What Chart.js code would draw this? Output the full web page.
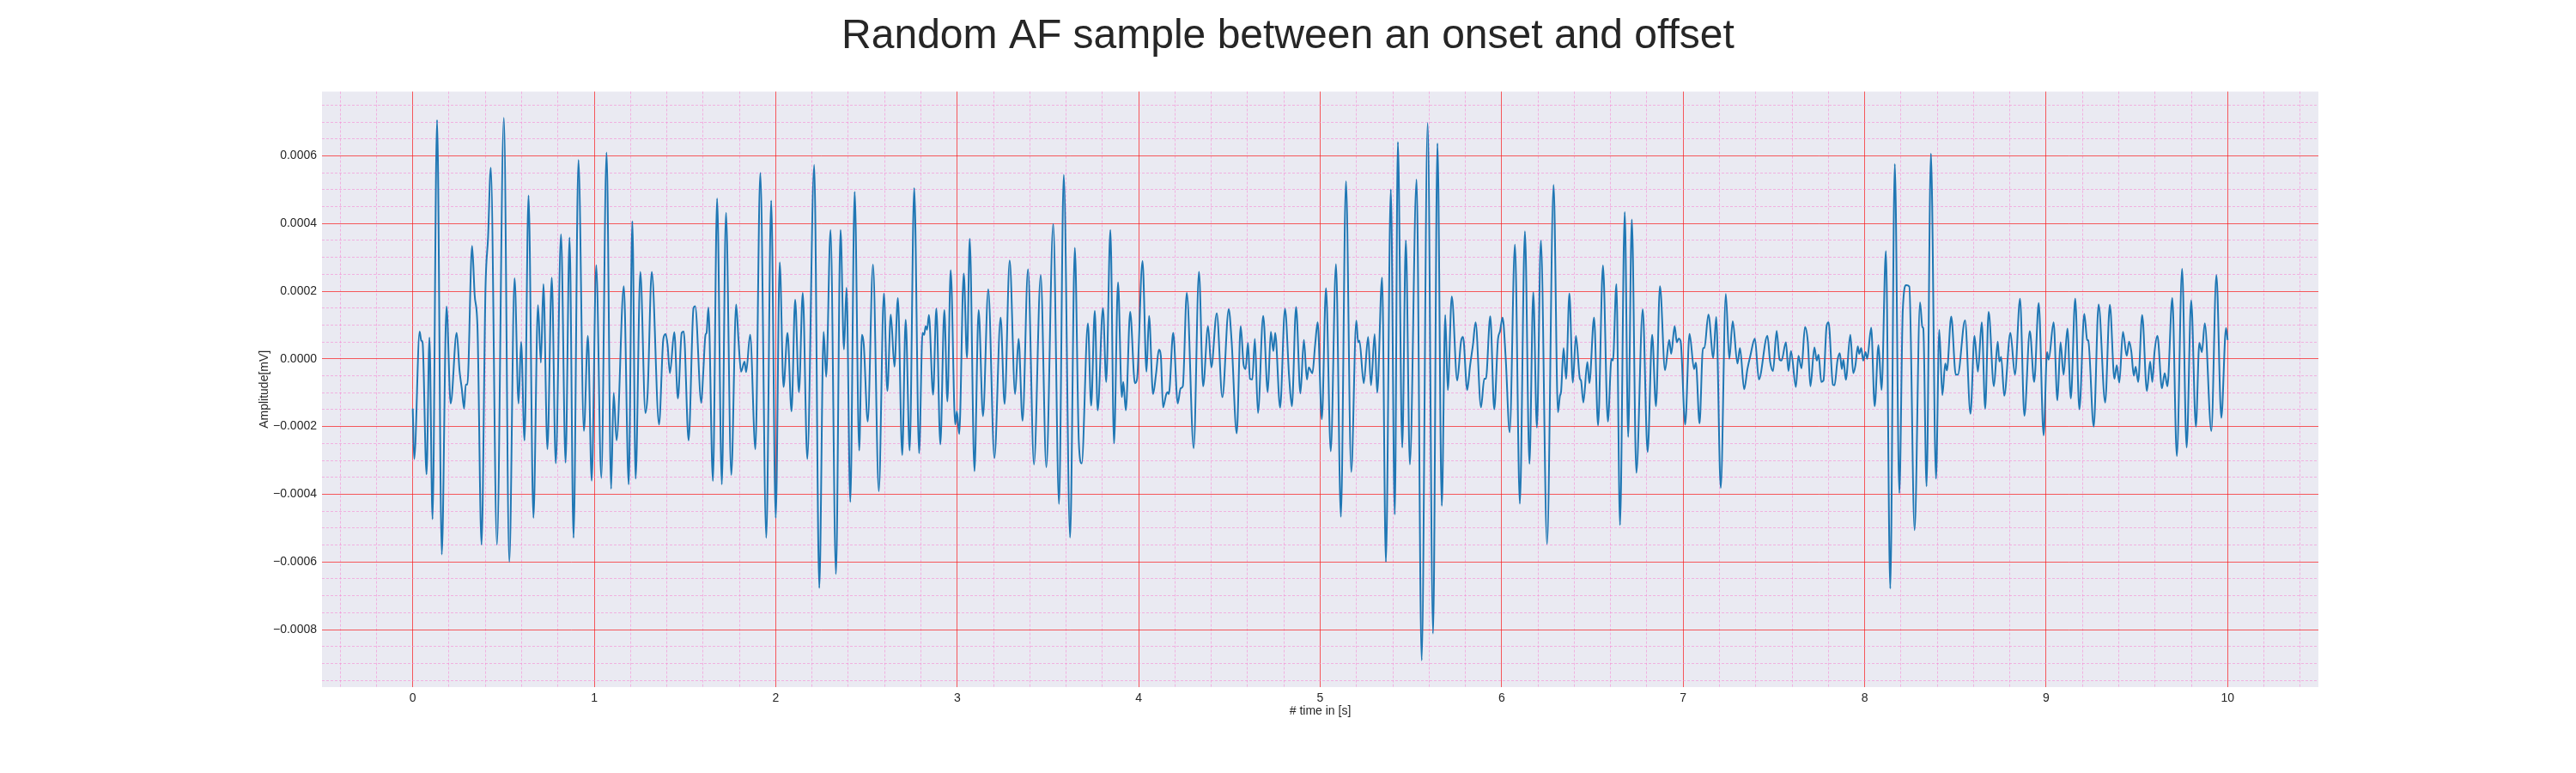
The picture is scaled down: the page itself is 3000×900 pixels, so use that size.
<!DOCTYPE html>
<html>
<head>
<meta charset="utf-8">
<title>Random AF sample between an onset and offset</title>
<script src="https://cdn.jsdelivr.net/npm/chart.js@4.4.1/dist/chart.umd.min.js"></script>
<style>
  html, body { margin: 0; padding: 0; background: #ffffff; }
  #afChart { display: block; }
</style>
</head>
<body>
<canvas id="afChart" width="3000" height="900"></canvas>
<script>
// ⏱ turning points of the trace [s]
const timeSec = [
  0.000, 0.008, 0.038, 0.047, 0.054, 0.076, 0.092, 0.109, 0.134, 0.160,
  0.186, 0.209, 0.242, 0.258, 0.270, 0.283, 0.292, 0.301, 0.327, 0.341,
  0.357, 0.379, 0.401, 0.415, 0.430, 0.464, 0.502, 0.532, 0.561, 0.583,
  0.597, 0.616, 0.638, 0.665, 0.690, 0.706, 0.720, 0.742, 0.766, 0.788,
  0.817, 0.842, 0.864, 0.886, 0.913, 0.943, 0.965, 0.986, 1.011, 1.039,
  1.068, 1.093, 1.107, 1.123, 1.163, 1.190, 1.210,
  1.228, 1.254, 1.282, 1.294, 1.317, 1.357, 1.381, 1.394, 1.404, 1.417,
  1.441, 1.461, 1.482, 1.493, 1.520, 1.547, 1.556, 1.590, 1.600, 1.613,
  1.619, 1.629, 1.654, 1.677, 1.703, 1.726, 1.755, 1.782, 1.795, 1.809,
  1.828, 1.837, 1.859, 1.888, 1.915, 1.948, 1.975, 2.000, 2.022, 2.043,
  2.065, 2.087, 2.107, 2.128, 2.149, 2.174, 2.212, 2.240, 2.264, 2.278,
  2.302, 2.332, 2.357, 2.376, 2.390, 2.411, 2.435, 2.460, 2.475,
  2.485, 2.507, 2.536, 2.568, 2.596, 2.615, 2.634, 2.654, 2.673, 2.697,
  2.716, 2.738, 2.763, 2.790, 2.809, 2.818, 2.826, 2.834, 2.844, 2.867,
  2.885, 2.907, 2.929, 2.946, 2.964, 2.989, 2.998, 3.011, 3.036, 3.054,
  3.069, 3.095, 3.118, 3.142, 3.171, 3.205, 3.239, 3.261, 3.289, 3.319,
  3.338, 3.360, 3.390, 3.423, 3.460, 3.491, 3.529, 3.561, 3.587, 3.622,
  3.648, 3.670, 3.686, 3.720,
  3.738, 3.758, 3.774, 3.803, 3.821, 3.844, 3.864, 3.886, 3.907, 3.915,
  3.929, 3.953, 3.979, 3.991, 4.021, 4.043, 4.057, 4.079, 4.096, 4.111,
  4.122, 4.134, 4.152, 4.160, 4.166, 4.190, 4.215, 4.231, 4.243, 4.265,
  4.303, 4.332, 4.355, 4.382, 4.400, 4.430, 4.461, 4.496, 4.512, 4.540,
  4.562, 4.578, 4.589, 4.602, 4.613, 4.626, 4.640, 4.657, 4.686, 4.711,
  4.728, 4.742, 4.752, 4.779, 4.806, 4.829, 4.844, 4.867, 4.891, 4.910,
  4.927, 4.937, 4.957, 4.972, 4.986,
  5.009, 5.032, 5.058, 5.087, 5.114, 5.142, 5.171, 5.199, 5.209, 5.216,
  5.240, 5.264, 5.280, 5.300, 5.314, 5.341, 5.362, 5.389, 5.411, 5.428,
  5.452, 5.472, 5.494, 5.531, 5.559, 5.592, 5.622, 5.646, 5.670, 5.689,
  5.703, 5.725, 5.755, 5.776, 5.787, 5.810, 5.826, 5.842, 5.856, 5.886,
  5.904, 5.913, 5.937, 5.959, 5.979, 5.991, 6.005, 6.022, 6.044, 6.073,
  6.100, 6.128, 6.153, 6.174, 6.194, 6.216,
  6.250, 6.286, 6.310, 6.321, 6.327, 6.341, 6.355, 6.373, 6.392, 6.409,
  6.431, 6.437, 6.450, 6.472, 6.483, 6.509, 6.531, 6.558, 6.585, 6.605,
  6.613, 6.632, 6.652, 6.678, 6.697, 6.717, 6.742, 6.777, 6.804, 6.829,
  6.850, 6.872, 6.900, 6.923, 6.934, 6.953, 6.965, 6.975, 6.986, 7.011,
  7.035, 7.060, 7.070, 7.090, 7.109, 7.117, 7.139, 7.166, 7.182, 7.207,
  7.235, 7.254, 7.273, 7.299, 7.313, 7.336, 7.354, 7.370, 7.395, 7.417,
  7.464, 7.479,
  7.495, 7.515, 7.531, 7.542, 7.566, 7.580, 7.594, 7.621, 7.635, 7.652,
  7.671, 7.687, 7.701, 7.723, 7.736, 7.746, 7.761, 7.773, 7.790, 7.801,
  7.825, 7.834, 7.850, 7.863, 7.874, 7.883, 7.896, 7.921, 7.937, 7.949,
  7.962, 7.970, 7.981, 7.992, 8.005, 8.014, 8.036, 8.055, 8.076, 8.093,
  8.117, 8.141, 8.166, 8.191, 8.210, 8.229, 8.246, 8.275, 8.305, 8.318,
  8.323, 8.341, 8.365, 8.393, 8.411, 8.428, 8.444, 8.453, 8.477, 8.502,
  8.513, 8.553, 8.583, 8.605, 8.624, 8.645, 8.664, 8.683, 8.712, 8.733,
  8.742, 8.752, 8.769, 8.803, 8.828, 8.856, 8.880, 8.910, 8.934, 8.959,
  8.986, 9.005, 9.014, 9.041, 9.062, 9.079, 9.096, 9.117, 9.136, 9.160,
  9.183, 9.210, 9.226, 9.232, 9.262, 9.289, 9.325, 9.351, 9.376, 9.389,
  9.403, 9.423, 9.444, 9.457, 9.469, 9.483, 9.493, 9.507, 9.529, 9.555,
  9.573, 9.585, 9.597, 9.613, 9.638, 9.653, 9.668, 9.695, 9.720, 9.749,
  9.774, 9.799, 9.825, 9.844, 9.858, 9.874, 9.910, 9.938, 9.965, 9.991,
  10.000
];

// 📈 amplitude at those points, in units of 1e-4 mV
const amplitudeE4 = [
  -1.47, -2.96, 0.81, 0.54, 0.49, -3.41, 0.63, -4.74, 7.06, -5.78,
  1.55, -1.32, 0.77, -0.36, -0.87, -1.47, -0.76, -0.76, 3.34, 1.90,
  0.88, -5.49, 2.12, 3.59, 5.65, -5.49, 7.12, -6.00, 2.38, -1.32,
  0.50, -2.41, 4.83, -4.70, 1.59, -0.11, 2.21, -2.67, 2.40, -3.09,
  3.68, -3.07, 3.59, -5.29, 5.88, -2.13, 0.68, -3.60, 2.77, -3.52,
  6.10, -3.84, -1.00, -2.41, 2.15, -3.71, 4.07,
  -3.54, 2.57, -1.60, -1.04, 2.57, -1.94, 0.60, 0.73, 0.41, -0.42,
  0.79, -1.17, 0.77, 0.81, -2.41, 1.50, 1.56, -1.30, -0.47, 0.71,
  0.77, 1.52, -3.61, 4.74, -3.71, 4.32, -3.43, 1.61, 0.54, -0.38,
  -0.08, -0.39, 0.71, -2.67, 5.50, -5.29, 4.68, -4.70, 2.85, -0.83,
  0.77, -1.55, 1.75, -0.98, 1.95, -2.96, 5.73, -6.77, 0.80, -0.53,
  3.81, -6.36, 3.81, 0.28, 2.10, -4.23, 4.94, -2.71, 0.71,
  0.43, -1.85, 2.79, -3.91, 1.93, -0.95, 1.31, -0.23, 1.80, -2.84,
  1.16, -2.71, 5.05, -2.79, 0.77, 0.71, 0.97, 0.86, 1.30, -1.06,
  1.49, -2.53, 1.44, -1.26, 2.62, -1.94, -1.55, -2.22, 2.52, 0.03,
  3.55, -3.32, 1.44, -1.69, 2.06, -2.93, 1.22, -1.33, 2.91, -1.04,
  0.59, -1.83, 2.65, -3.12, 2.48, -3.20, 3.99, -4.29, 5.44, -5.28,
  3.28, -2.45, -3.09, 1.05,
  -1.38, 1.42, -1.52, 1.50, -0.68, 3.81, -2.50, 2.26, -1.13, -0.68,
  -1.52, 1.39, -0.72, -0.59, 2.89, -0.38, 1.27, -1.04, -0.42, 0.27,
  0.09, -1.43, -1.04, -0.98, -1.04, 0.77, -1.32, -0.87, -0.81, 1.95,
  -2.64, 2.57, -0.81, 0.97, -0.25, 1.35, -1.13, 1.47, 0.52, -2.20,
  0.97, -0.18, -0.30, 0.47, -0.59, -0.61, 0.59, -1.60, 1.27, -0.98,
  0.80, 0.23, 0.77, -1.44, 1.48, -0.55, -1.40, 1.53, -1.02, 0.56,
  -0.61, -0.25, -0.42, 0.41, 1.08,
  -1.78, 2.09, -2.73, 2.80, -4.67, 5.25, -3.34, 1.13, 0.49, 0.54,
  -0.72, 0.65, -0.78, 0.73, -1.00, 2.40, -6.00, 5.01, -4.60, 6.41,
  -2.62, 3.50, -3.12, 5.30, -8.91, 6.97, -8.12, 6.37, -4.34, 1.30,
  -0.92, 1.84, -0.64, 0.52, 0.65, -0.92, -0.19, 0.43, 1.08, -1.43,
  -0.59, -0.59, 1.26, -1.49, 0.54, 0.82, 1.22, 0.03, -2.17, 3.38,
  -4.28, 3.77, -3.10, 1.97, -2.03, 3.50,
  -5.47, 5.14, -1.58, -1.09, -0.98, 0.32, -0.59, 1.93, -0.70, 0.68,
  -0.59, -0.64, -1.29, -0.09, -0.72, 1.22, -1.97, 2.76, -1.85, 0.00,
  -0.05, 2.21, -4.91, 4.34, -2.31, 4.12, -3.37, 1.47, -2.75, 0.71,
  -1.40, 2.15, -0.33, 0.56, 0.15, 0.97, 0.49, 0.60, 0.52, -1.94,
  0.74, -0.30, -0.11, -1.91, 0.32, 0.32, 1.31, 0.03, 1.24, -3.81,
  1.92, 0.00, 1.11, -0.14, 0.32, -0.90, -0.30, 0.09, 0.60, -0.61,
  0.68, -0.08,
  -0.36, 0.83, -0.02, -0.05, 0.49, -0.36, 0.23, -0.83, 0.09, -0.28,
  0.94, 0.49, -0.81, 0.34, -0.05, 0.12, -0.68, -0.64, 0.96, 1.08,
  -0.76, -0.78, -0.05, 0.17, -0.30, -0.02, -0.62, 0.71, -0.42, -0.19,
  0.37, 0.15, 0.32, -0.05, 0.20, 0.00, 0.92, -1.40, 0.41, -0.92,
  3.19, -6.79, 5.76, -3.97, 1.44, 2.18, 2.14, -5.06, 1.67, 0.94,
  0.90, -3.77, 6.07, -3.54, 0.86, -1.07, -0.14, -0.34, 1.25, -0.47,
  -0.47, 1.14, -1.62, 0.68, -0.38, 1.08, -1.47, 1.39, -0.81, 0.51,
  -0.08, 0.06, -1.09, 0.77, -0.47, 1.78, -1.68, 0.82, -0.68, 1.65,
  -2.26, 0.20, -0.02, 1.08, -1.23, 0.49, -0.47, 0.90, -1.17, 1.78,
  -1.49, 1.33, 0.56, 0.54, -2.00, 1.61, -1.29, 1.60, -0.59, -0.19,
  -0.70, 0.80, 0.09, 0.51, 0.23, -0.50, -0.23, -0.68, 1.30, -0.95,
  -0.08, -0.68, 0.20, 0.68, -0.87, -0.42, -0.81, 1.80, -2.87, 2.66,
  -2.62, 1.73, -2.00, 0.47, 0.20, 1.05, -2.13, 2.48, -1.74, 0.91,
  0.56
];

// 🏷 tick labels / grid
const xMajorTicks = [0, 1, 2, 3, 4, 5, 6, 7, 8, 9, 10];
const yMajorTicks = [-0.0008, -0.0006, -0.0004, -0.0002, 0, 0.0002, 0.0004, 0.0006];
const xMinorStep = 0.2;
const yMinorStep = 0.00005;
const xLimits = [-0.5, 10.5];
const yLimits = [-0.00097, 0.00079];

const TEXT = "#262626";
const FONT = "'Liberation Sans', Arial, sans-serif";

// minor grid positions (every step between the limits)
function minorTicks(limits, step) {
  const list = [];
  for (let k = Math.ceil(limits[0] / step - 1e-9); k * step <= limits[1] + 1e-12; k++) {
    list.push(+(k * step).toPrecision(10));
  }
  return list;
}

function isMajor(value, majors) {
  return majors.some(m => Math.abs(m - value) < 1e-9);
}

// 🎨 axes background like seaborn darkgrid
const plotBackground = {
  id: "plotBackground",
  beforeDraw(chart) {
    const { ctx, chartArea: a } = chart;
    ctx.save();
    ctx.fillStyle = "#EAEAF2";
    ctx.fillRect(a.left, a.top, a.right - a.left, a.bottom - a.top);
    ctx.restore();
  }
};

function gridFor(majors) {
  return {
    drawTicks: false,
    lineWidth: 1,
    color: c => isMajor(c.tick.value, majors) ? "rgba(250, 30, 30, 0.72)" : "rgba(245, 130, 210, 0.55)"
  };
}

function borderFor(majors) {
  return {
    display: false,
    dash: c => (c.tick && isMajor(c.tick.value, majors)) ? [] : [3, 2]
  };
}

const n = Math.min(timeSec.length, amplitudeE4.length);
const points = [];
for (let i = 0; i < n; i++) points.push({ x: timeSec[i], y: amplitudeE4[i] * 1e-4 });

const ctx = document.getElementById("afChart").getContext("2d");
new Chart(ctx, {
  type: "line",
  data: {
    datasets: [{
      label: "AF sample",
      data: points,
      borderColor: "#1f77b4",
      borderWidth: 2,
      pointRadius: 0,
      fill: false,
      cubicInterpolationMode: "monotone"
    }]
  },
  options: {
    responsive: false,
    animation: false,
    devicePixelRatio: 1,
    layout: { padding: 0 },
    plugins: {
      legend: { display: false },
      tooltip: { enabled: false },
      title: {
        display: true,
        text: "Random AF sample between an onset and offset",
        color: TEXT,
        font: { family: FONT, size: 48, weight: "normal", lineHeight: 1.2 },
        padding: { top: 14, bottom: 35 }
      }
    },
    scales: {
      x: {
        type: "linear",
        min: xLimits[0],
        max: xLimits[1],
        afterBuildTicks: s => { s.ticks = minorTicks(xLimits, xMinorStep).map(v => ({ value: v })); },
        afterFit: s => { s.height = 100; },
        grid: gridFor(xMajorTicks),
        border: borderFor(xMajorTicks),
        ticks: {
          autoSkip: false,
          maxRotation: 0,
          padding: 5,
          color: TEXT,
          font: { family: FONT, size: 14 },
          callback: v => isMajor(v, xMajorTicks) ? String(Math.round(v)) : ""
        },
        title: {
          display: true,
          text: "# time in [s]",
          color: TEXT,
          font: { family: FONT, size: 14 },
          padding: { top: 0, bottom: 63 }
        }
      },
      y: {
        type: "linear",
        min: yLimits[0],
        max: yLimits[1],
        afterBuildTicks: s => { s.ticks = minorTicks(yLimits, yMinorStep).map(v => ({ value: v })); },
        afterFit: s => { s.width = 375; },
        grid: gridFor(yMajorTicks),
        border: borderFor(yMajorTicks),
        ticks: {
          autoSkip: false,
          padding: 6,
          color: TEXT,
          font: { family: FONT, size: 14 },
          callback: v => isMajor(v, yMajorTicks) ? v.toFixed(4).replace("-", "\u2212") : ""
        },
        title: {
          display: true,
          text: "Amplitude[mV]",
          color: TEXT,
          font: { family: FONT, size: 14 },
          padding: { top: 300, bottom: 0 }
        }
      },
      // empty right margin so the title stays centred on the whole figure
      yRight: {
        type: "linear",
        position: "right",
        display: true,
        afterFit: s => { s.width = 300; },
        grid: { display: false, drawTicks: false },
        border: { display: false },
        ticks: { display: false }
      }
    }
  },
  plugins: [plotBackground]
});
</script>
</body>
</html>
